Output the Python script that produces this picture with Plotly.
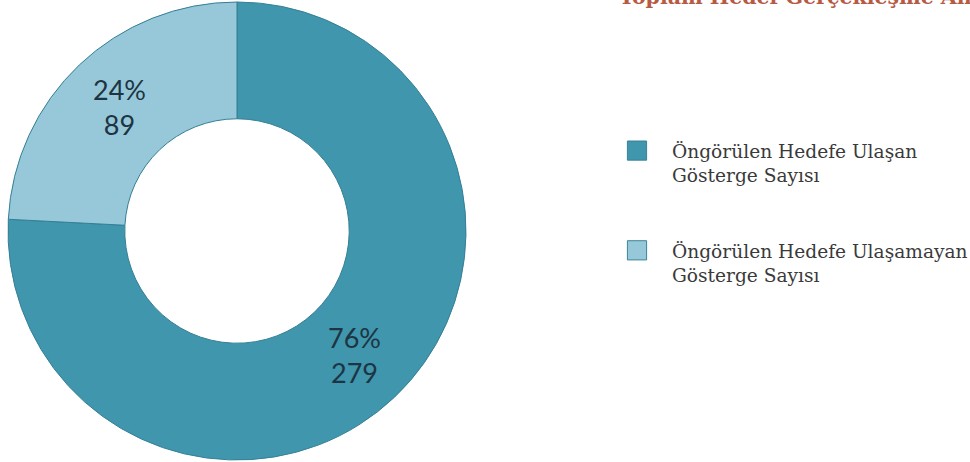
import plotly.graph_objects as go

labels = ["Öngörülen Hedefe Ulaşan<br>Gösterge Sayısı<br> <br> ",
          "Öngörülen Hedefe Ulaşamayan<br>Gösterge Sayısı"]
values = [279, 89]
colors = ["#3f96ad", "#96c8d9"]
title_text = "Toplam Hedef Gerçekleşme Analizi"

W, H = 970, 462

fig = go.Figure()
fig.add_trace(go.Pie(
    labels=labels,
    values=values,
    hole=0.49,
    sort=False,
    direction="clockwise",
    rotation=0,
    marker=dict(colors=colors, line=dict(color="#357f95", width=1)),
    texttemplate="%{percent:.0%}<br>%{value}",
    textposition="inside",
    insidetextorientation="horizontal",
    textfont=dict(family="Lato, Carlito, sans-serif", size=27, color="#1d3442"),
    domain=dict(x=[8 / W, 466 / W], y=[2 / H, 460 / H]),
    hoverinfo="label+value+percent",
))

fig.add_annotation(
    text="<b>" + title_text + "</b>",
    xref="paper", yref="paper",
    x=617 / W, y=1 + 17 / H,
    xanchor="left", yanchor="top",
    showarrow=False,
    font=dict(family="DejaVu Serif, serif", size=20.5, color="#b65a44"),
)

fig.update_layout(
    width=W, height=H,
    margin=dict(l=0, r=0, t=0, b=0, autoexpand=False),
    paper_bgcolor="white",
    plot_bgcolor="white",
    showlegend=True,
    legend=dict(
        x=602 / W, y=1 - 132 / H,
        xanchor="left", yanchor="top",
        itemwidth=60,
        font=dict(family="DejaVu Serif, serif", size=18.6, color="#3a3a3a"),
        valign="top",
        bgcolor="rgba(0,0,0,0)",
    ),
)

post = """
document.body.style.margin='0';
document.querySelectorAll('path.legendpie').forEach(function(p){
  var t = p.getAttribute('transform') || '';
  p.setAttribute('transform', t + ' scale(1.6)');
  p.style.strokeWidth='0.6px';
});
"""

fig.write_html("out.html", post_script=post, config={"displayModeBar": False})
